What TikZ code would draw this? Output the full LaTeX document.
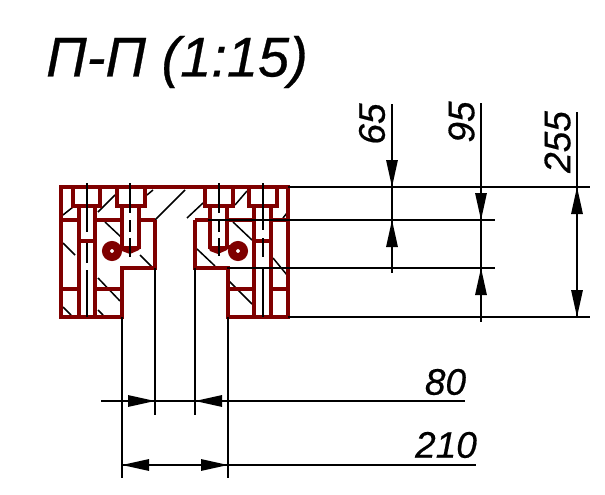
\documentclass[tikz,border=0pt]{standalone}
\usepackage{fontspec}
\setmainfont{Liberation Sans}[ItalicFeatures={FakeBold=0.5}]
\usetikzlibrary{arrows.meta}
\definecolor{sect}{RGB}{127,0,0}
\tikzset{
  sectline/.style={draw=sect,line width=4pt,line join=miter},
  hatchline/.style={draw=black,line width=1.5pt},
  centerline/.style={draw=black,line width=1.5pt},
  dimline/.style={draw=black,line width=1.5pt},
  tipline/.style={draw=black,line width=1.5pt,-{Triangle[length=27pt,width=11.5pt]},shorten >=0pt},
  dimtext/.style={font=\itshape\fontsize{37pt}{37pt}\selectfont,inner sep=0pt,text=black},
}
\begin{document}
\begin{tikzpicture}[x=1pt,y=-1pt]
\useasboundingbox (0,0) rectangle (605,495);
% hatching
\foreach \a/\b/\c/\d in {63/215/73/207,98/212/115/195,147/195/153/190,155/220/185/190,63/243/75/255,105/222/121/237,140/255/152/267,98/278/120/301,63/307/71/315,98/310/103/315,187/218/203/203,235/205/247/191,283/218/287/213,233/222/252/240,273/258/287/275,197/249/215/266,229/281/252/304}
  \draw[hatchline] (\a,\b) -- (\c,\d);
% section outline
\draw[sectline] (61,187) -- (288,187) -- (288,317) -- (228,317) -- (228,268) -- (195,268) -- (195,220);
\draw[sectline] (155,220) -- (155,268) -- (122,268) -- (122,317) -- (61,317) -- (61,187);
\draw[sectline] (59,187) -- (290,187);
\draw[sectline] (61,220) -- (79,220) (95,220) -- (122,220) (139,220) -- (155,220)
  (195,220) -- (210,220) (227,220) -- (254,220) (271,220) -- (288,220)
  (61,289) -- (79,289) (95,289) -- (122,289) (228,289) -- (254,289) (271,289) -- (288,289);
% counterbores
\draw[sectline] (73,187) -- (73,206) -- (100,206) -- (100,187);
\draw[sectline] (117,187) -- (117,206) -- (145,206) -- (145,187);
\draw[sectline] (205,187) -- (205,206) -- (233,206) -- (233,187);
\draw[sectline] (249,187) -- (249,206) -- (277,206) -- (277,187);
% long bolts
\draw[sectline] (79,206) -- (79,317) (95,206) -- (95,317) (79,241) -- (95,241);
\draw[sectline] (254,206) -- (254,317) (271,206) -- (271,317) (254,241) -- (271,241);
% short bolts
\draw[sectline] (122,206) -- (122,249) (139,206) -- (139,249);
\draw[sectline] (210,206) -- (210,249) (227,206) -- (227,249);
\fill[sect] (120,246) -- (141,246) -- (139,250) -- (130,254) -- (122,251) -- cycle;
\fill[sect] (208,246) -- (229,246) -- (227,250) -- (218,254) -- (210,251) -- cycle;
% rings
\draw[sect,line width=8pt] (112,251) circle (6pt);
\draw[sect,line width=8pt] (238,251) circle (6pt);
\draw[sect,line width=3pt] (118,246) -- (122,246) (227,246) -- (232,246);
% centre lines
\foreach \x/\p/\q in {87/183/232,87/243/263,87/270/317,263/183/230,263/238/257,263/268/317,130/183/213,130/220/232,130/238/257,219/183/213,219/220/232,219/238/256}
  \draw[centerline] (\x,\p) -- (\x,\q);
% extension lines
\coordinate (t1) at (288,187); \coordinate (t2) at (590,187);
\coordinate (m1) at (208,220); \coordinate (m2) at (495,220);
\coordinate (n1) at (227,268); \coordinate (n2) at (495,268);
\coordinate (b1) at (288,317); \coordinate (b2) at (590,317);
\draw[dimline] (t1) -- (t2);
\draw[dimline] (m1) -- (m2);
\draw[dimline] (n1) -- (n2);
\draw[dimline] (b1) -- (b2);
\draw[dimline] (122,317) -- (122,478) (228,317) -- (228,478);
\draw[dimline] (155,268) -- (155,415) (195,268) -- (195,415);
% dimension 65
\draw[dimline] (392,104) -- (392,273);
\draw[tipline] (392,160) -- (392,187);
\draw[tipline] (392,248) -- (392,220);
% dimension 95
\draw[dimline] (481,103) -- (481,322);
\draw[tipline] (481,193) -- (481,220);
\draw[tipline] (481,296) -- (481,268);
% dimension 255
\draw[dimline] (577,112) -- (577,317);
\draw[tipline] (577,215) -- (577,187);
\draw[tipline] (577,289) -- (577,317);
% dimension 80
\draw[dimline] (101,401) -- (465,401);
\draw[tipline] (127,401) -- (155,401);
\draw[tipline] (222,401) -- (195,401);
% dimension 210
\draw[dimline] (122,465) -- (476,465);
\draw[tipline] (149,465) -- (122,465);
\draw[tipline] (200,465) -- (228,465);
% texts
\node[font=\itshape\fontsize{56pt}{56pt}\selectfont,inner sep=0pt,anchor=center,text=black] (title) at (177,62) {П-П (1:15)};
\node[dimtext,rotate=90] (d65) at (372,124) {65};
\node[dimtext,rotate=90] (d95) at (461.5,122) {95};
\node[dimtext,rotate=90] (d255) at (557.5,142) {255};
\node[dimtext] (d80) at (445.5,382) {80};
\node[dimtext] (d210) at (446,445) {210};
\end{tikzpicture}
\end{document}
